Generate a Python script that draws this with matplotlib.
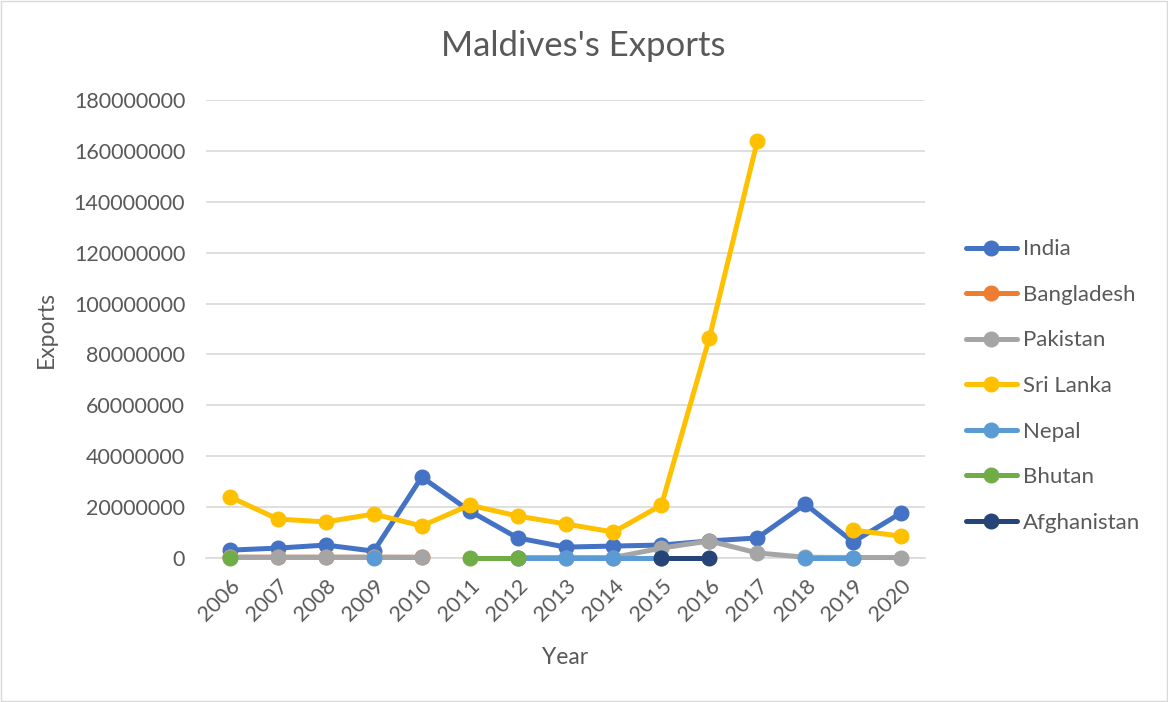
import matplotlib.pyplot as plt
import matplotlib.ticker as mticker
import numpy as np

nan = np.nan

years = [str(y) for y in range(2006, 2021)]

# exports per partner country, nan where no value was reported
india = [3.1e6, 3.9e6, 5.1e6, 2.7e6, 31.8e6, 18.5e6, 7.9e6, 4.3e6, 4.7e6, 5.1e6,
         6.7e6, 7.9e6, 21.2e6, 6.3e6, 17.7e6]
bangladesh = [0.3e6, 0.3e6, 0.3e6, 0.3e6, 0.25e6, nan, nan, nan, nan, nan,
              nan, nan, nan, nan, nan]
pakistan = [0.3e6, 0.3e6, 0.3e6, 0.3e6, 0.3e6, nan, 0.2e6, 0.2e6, 0.2e6, 3.9e6,
            6.7e6, 2.0e6, 0.3e6, 0.2e6, 0.2e6]
sri_lanka = [24.0e6, 15.3e6, 14.2e6, 17.3e6, 12.6e6, 20.8e6, 16.5e6, 13.4e6, 10.2e6, 20.8e6,
             86.5e6, 163.9e6, nan, 11.0e6, 8.6e6]
nepal = [nan, nan, nan, 0.2e6, nan, nan, 0.1e6, 0.1e6, 0.1e6, 0.1e6,
         nan, nan, 0.1e6, 0.1e6, nan]
bhutan = [0.1e6, nan, nan, nan, nan, 0.1e6, 0.1e6, nan, nan, nan,
          nan, nan, nan, nan, nan]
afghanistan = [nan, nan, nan, nan, nan, nan, nan, nan, nan, 0.1e6,
               0.1e6, nan, nan, nan, nan]

series = [
    ("India", india, "#4472C4"),
    ("Bangladesh", bangladesh, "#ED7D31"),
    ("Pakistan", pakistan, "#A5A5A5"),
    ("Sri Lanka", sri_lanka, "#FFC000"),
    ("Nepal", nepal, "#5B9BD5"),
    ("Bhutan", bhutan, "#70AD47"),
    ("Afghanistan", afghanistan, "#264478"),
]

plt.rcParams['font.family'] = ['Lato', 'DejaVu Sans']
text_color = "#595959"

fig = plt.figure(figsize=(11.68, 7.02), dpi=100)
ax = fig.add_axes([0.1764, 0.2051, 0.6156, 0.6524])

x = np.arange(len(years))
for name, values, color in series:
    ax.plot(x, values, color=color, linewidth=3.6, marker="o", markersize=10.5,
            label=name, solid_capstyle="round", clip_on=False, zorder=3)

ax.set_xlim(-0.5, len(years) - 0.5)
ax.set_ylim(0, 180e6)
ax.yaxis.set_major_locator(mticker.MultipleLocator(20e6))
ax.yaxis.set_major_formatter(mticker.FuncFormatter(lambda v, p: f"{int(round(v))}"))
ax.set_xticks(x)
ax.set_xticklabels(years, rotation=45, ha="right", rotation_mode="anchor")

ax.grid(axis="y", color="#D9D9D9", linewidth=1.2)
ax.set_axisbelow(True)
for side in ["top", "right", "left"]:
    ax.spines[side].set_visible(False)
ax.spines["bottom"].set_color("#D9D9D9")
ax.spines["bottom"].set_linewidth(1.2)
ax.spines["bottom"].set_zorder(1)
ax.tick_params(axis="both", length=0, labelsize=15.5, colors=text_color, pad=15)
ax.tick_params(axis="x", pad=12.5)

ax.set_xlabel("Year", fontsize=16.5, color=text_color, labelpad=16)
ax.set_ylabel("Exports", fontsize=16.5, color=text_color, labelpad=12)
fig.text(0.499, 0.935, "Maldives's Exports", fontsize=25, color=text_color,
         ha="center", va="center")

leg = ax.legend(loc="center left", bbox_to_anchor=(1.029, 0.3755), frameon=False,
                fontsize=16, labelcolor=text_color, handlelength=2.3,
                handletextpad=0.25, labelspacing=1.15)

# thin outline around the whole chart
fig.patches.append(plt.Rectangle((0.001, 0.001), 0.998, 0.997, transform=fig.transFigure,
                                 fill=False, edgecolor="#D9D9D9", linewidth=1))

fig.savefig("out.png", dpi=100)
